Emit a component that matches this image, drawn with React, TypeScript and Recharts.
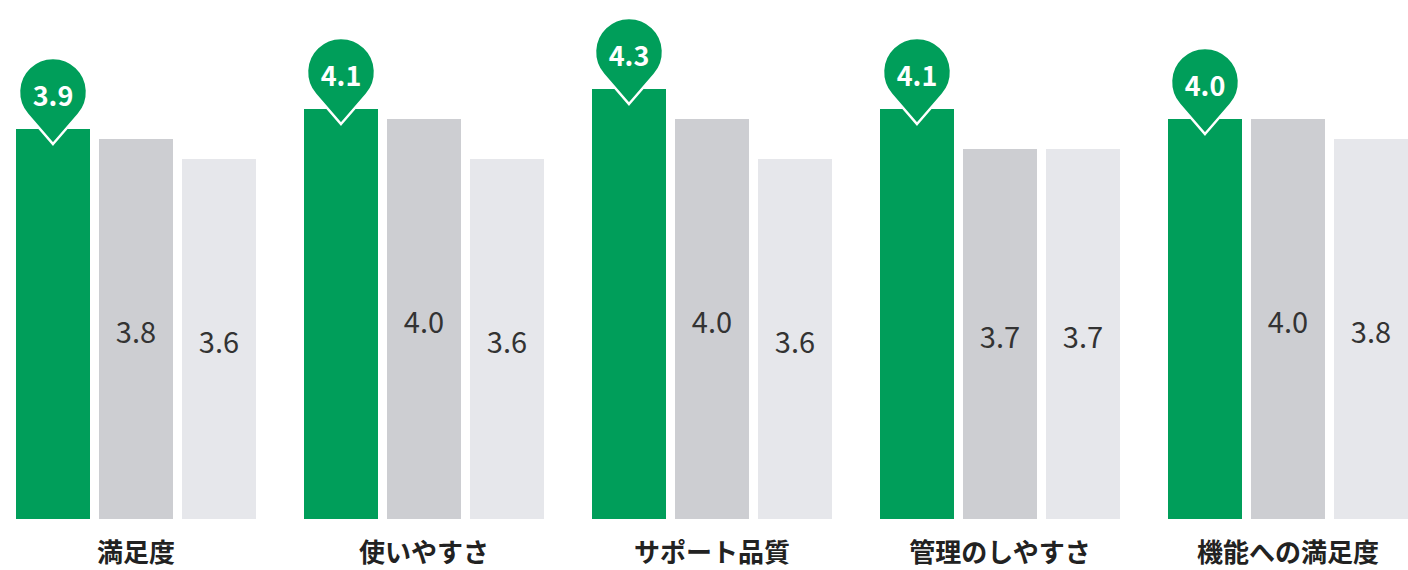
import React from 'react';
import { BarChart, Bar, XAxis, YAxis, LabelList } from 'recharts';

const categories = ['満足度', '使いやすさ', 'サポート品質', '管理のしやすさ', '機能への満足度'];
const mainValues = [3.9, 4.1, 4.3, 4.1, 4.0];
const compareValues = [3.8, 4.0, 4.0, 3.7, 4.0];
const averageValues = [3.6, 3.6, 3.6, 3.7, 3.8];

const data = categories.map((name, i) => ({
  name,
  main: mainValues[i],
  compare: compareValues[i],
  average: averageValues[i],
}));

const FONT = '"Noto Sans CJK JP", "Noto Sans", sans-serif';

// 吹き出し型のラベル（緑の棒の上）
const PinLabel = (props: any) => {
  const { x, y, width, value } = props;
  const cx = x + width / 2;
  const r = 34;
  const cy = y - 37;
  const ty = y + 15;
  const d = ty - cy;
  const cos = r / d;
  const sin = Math.sqrt(1 - cos * cos);
  const px = r * sin;
  const py = cy + r * cos;
  const path = `M ${cx} ${ty} L ${cx + px} ${py} A ${r} ${r} 0 1 0 ${cx - px} ${py} Z`;
  return (
    <g>
      <path d={path} fill="#009e5a" stroke="#ffffff" strokeWidth={2.5} strokeLinejoin="miter" />
      <text
        x={cx}
        y={cy + 14}
        textAnchor="middle"
        fill="#ffffff"
        fontSize={27}
        fontWeight={700}
        fontFamily={FONT}
      >
        {Number(value).toFixed(1)}
      </text>
    </g>
  );
};

const MidLabel = (props: any) => {
  const { x, y, width, height, value } = props;
  return (
    <text
      x={x + width / 2}
      y={y + height / 2 + 14}
      textAnchor="middle"
      fill="#333333"
      fontSize={29}
      fontFamily={FONT}
    >
      {Number(value).toFixed(1)}
    </text>
  );
};

const CategoryTick = (props: any) => {
  const { x, y, payload } = props;
  return (
    <text
      x={x}
      y={y + 35}
      textAnchor="middle"
      fill="#222222"
      fontSize={26}
      fontWeight={700}
      fontFamily={FONT}
    >
      {payload.value}
    </text>
  );
};

export default function App() {
  return (
    <div style={{ position: 'absolute', left: -8, top: 0 }}>
      <BarChart
        width={1440}
        height={570}
        data={data}
        margin={{ top: 19, right: 0, bottom: 0, left: 0 }}
        barCategoryGap={24}
        barGap={9}
      >
        <XAxis
          dataKey="name"
          axisLine={false}
          tickLine={false}
          height={51}
          tick={<CategoryTick />}
          interval={0}
        />
        <YAxis hide domain={[0, 5]} />
        <Bar dataKey="main" fill="#009e5a" isAnimationActive={false}>
          <LabelList dataKey="main" content={<PinLabel />} />
        </Bar>
        <Bar dataKey="compare" fill="#cdced2" isAnimationActive={false}>
          <LabelList dataKey="compare" content={<MidLabel />} />
        </Bar>
        <Bar dataKey="average" fill="#e6e7eb" isAnimationActive={false}>
          <LabelList dataKey="average" content={<MidLabel />} />
        </Bar>
      </BarChart>
    </div>
  );
}
